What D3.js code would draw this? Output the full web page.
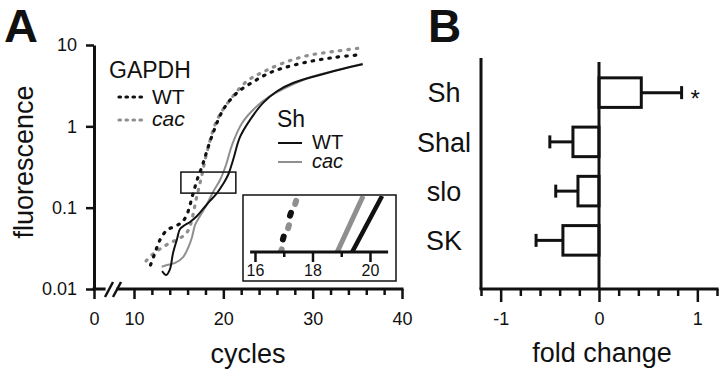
<!DOCTYPE html>
<html><head><meta charset="utf-8">
<script src="https://cdn.jsdelivr.net/npm/d3@7"></script>
<style>body{margin:0;background:#fff}svg{display:block}text{font-family:"Liberation Sans",Arial,Helvetica,sans-serif;fill:#111}</style>
</head><body><svg id="c" width="720" height="372"></svg>
<script>
// ---------- Panel A data ----------
const cycleTicks = [0, 10, 20, 30, 40];
const cycleMinor = [12, 14, 16, 18, 22, 24, 26, 28, 32, 34, 36, 38];
const fluorTicks = [0.01, 0.1, 1, 10];
const fluorLabels = ["0.01", "0.1", "1", "10"];

const gapdhWT = [[11.85,0.0197],[12.35,0.0277],[12.9,0.040],[13.7,0.053],[14.6,0.059],[15.4,0.0667],[15.9,0.081],[16.27,0.108],[16.5,0.135],[16.83,0.18],[17.17,0.238],[17.6,0.316],[17.95,0.42],[18.85,0.83],[19.97,1.59],[21.5,2.57],[23.3,3.5],[24.9,4.4],[26.35,5.07],[29.4,6.18],[32.3,7.0],[35.4,7.6]];
const gapdhCac = [[11.35,0.0221],[12.0,0.0262],[12.9,0.031],[14.0,0.0367],[15.15,0.0424],[15.8,0.0474],[16.27,0.0594],[16.6,0.0813],[16.94,0.124],[17.28,0.179],[17.6,0.252],[18.17,0.483],[19.3,1.2],[20.75,2.11],[22.65,3.6],[24.45,4.66],[26.7,6.0],[29.4,7.4],[32.3,8.3],[35.4,9.2]];
const shWT = [[13.14,0.0166],[13.6,0.0149],[14.03,0.0176],[14.37,0.0277],[14.82,0.0412],[15.15,0.0547],[15.7,0.0612],[16.27,0.0667],[17.05,0.0789],[17.73,0.0964],[18.5,0.121],[19.29,0.151],[19.97,0.195],[20.53,0.252],[21.09,0.386],[21.87,0.74],[22.99,1.2],[24.45,1.94],[26.0,2.7],[27.8,3.41],[30.8,4.28],[34.2,5.36],[35.6,5.8]];
const shCac = [[13.1,0.0188],[13.7,0.0197],[14.6,0.0209],[15.5,0.0247],[16.05,0.0319],[16.5,0.0436],[16.83,0.0612],[17.39,0.0789],[18.06,0.105],[18.85,0.156],[19.63,0.219],[20.3,0.335],[20.97,0.589],[22.1,1.1],[23.66,1.73],[25.1,2.3],[26.9,2.96],[30.0,4.1],[33.0,5.0],[35.6,5.9]];

// zoom box (in data units) and inset data
const boxCycles = [15.25, 21.4];
const boxFluor = [0.151, 0.274];
const insetTicks = [16, 18, 20];
const insetMinor = [17, 19];
const insetGapdhWT = [[16.85,0.15],[17.0,0.178],[17.2,0.212],[17.45,0.25]];
const insetGapdhCac = [[16.9,0.15],[17.05,0.175],[17.25,0.21],[17.48,0.25]];
const insetShWT = [[19.38,0.15],[20.42,0.25]];
const insetShCac = [[18.86,0.15],[19.76,0.25]];

// ---------- Panel B data ----------
const genes = ["Sh", "Shal", "slo", "SK"];
const foldChange = [0.43, -0.265, -0.214, -0.367];
const foldErr = [0.41, 0.235, 0.226, 0.273];
const signif = ["*", "", "", ""];
const foldTicks = [-1, 0, 1];
const foldMinor = [-1.2, -0.8, -0.6, -0.4, -0.2, 0.2, 0.4, 0.6, 0.8, 1.2];

const BLACK = "#111", GRAY = "#8f8f8f";
const svg = d3.select("#c");

// ================= Panel A =================
const x = d3.scaleLinear().domain([0, 10, 40]).range([94, 134, 402]);
const y = d3.scaleLog().domain([0.01, 10]).range([289, 45]);
const A = svg.append("g");

// y axis
const yAx = A.append("g").attr("transform", `translate(${x(0)},0)`)
  .call(d3.axisLeft(y).tickValues(fluorTicks).tickFormat((d,i)=>fluorLabels[i]).tickSize(8).tickPadding(9).tickSizeOuter(0));
yAx.select(".domain").attr("stroke", BLACK).attr("stroke-width", 3);
yAx.selectAll(".tick line").attr("stroke", BLACK).attr("stroke-width", 2.5);
yAx.selectAll(".tick text").attr("font-size", 18).attr("fill", BLACK);

// x axis (broken)
const xAxG = A.append("g").attr("transform", `translate(0,${y(0.01)})`);
const xMaj = xAxG.append("g").call(d3.axisBottom(x).tickValues(cycleTicks).tickSize(10).tickPadding(13));
const xMin = xAxG.append("g").call(d3.axisBottom(x).tickValues(cycleMinor).tickSize(6).tickFormat(""));
xAxG.selectAll(".domain").remove();
xAxG.selectAll(".tick line").attr("stroke", BLACK).attr("stroke-width", 2.5);
xMaj.selectAll(".tick text").attr("font-size", 18).attr("fill", BLACK);
xAxG.append("line").attr("x1", x(0) - 1.5).attr("x2", x(2.9)).attr("y1", 0).attr("y2", 0).attr("stroke", BLACK).attr("stroke-width", 3);
xAxG.append("line").attr("x1", x(5.6)).attr("x2", x(40) + 1.5).attr("y1", 0).attr("y2", 0).attr("stroke", BLACK).attr("stroke-width", 3);
[3.75, 5.75].forEach(c => {
  xAxG.append("line").attr("x1", x(c) - 4).attr("x2", x(c) + 4).attr("y1", 8).attr("y2", -7)
    .attr("stroke", BLACK).attr("stroke-width", 2.5);
});

// curves
const line = d3.line().x(d => x(d[0])).y(d => y(d[1])).curve(d3.curveCatmullRom.alpha(0.5));
const curves = [
  {d: gapdhCac, c: GRAY, dash: true},
  {d: gapdhWT, c: BLACK, dash: true},
  {d: shCac, c: GRAY, dash: false},
  {d: shWT, c: BLACK, dash: false}
];
curves.forEach(s => {
  const p = A.append("path").attr("d", line(s.d)).attr("fill", "none").attr("stroke", s.c);
  if (s.dash) p.attr("stroke-width", 3.2).attr("stroke-dasharray", "1.5,7").attr("stroke-linecap", "round");
  else p.attr("stroke-width", 2);
});

// zoom box
A.append("rect").attr("x", x(boxCycles[0])).attr("y", y(boxFluor[1]))
  .attr("width", x(boxCycles[1]) - x(boxCycles[0])).attr("height", y(boxFluor[0]) - y(boxFluor[1]))
  .attr("fill", "none").attr("stroke", BLACK).attr("stroke-width", 1.5);

// axis titles
A.append("text").attr("transform", "translate(33,162) rotate(-90)").attr("text-anchor", "middle").attr("font-size", 27).text("fluorescence");
A.append("text").attr("x", 248).attr("y", 363).attr("text-anchor", "middle").attr("font-size", 27).text("cycles");
A.append("text").attr("x", 4).attr("y", 42).attr("font-size", 47).attr("font-weight", "bold").text("A");

// legends
A.append("text").attr("x", 109).attr("y", 78).attr("font-size", 23).text("GAPDH");
const leg1 = [{c: BLACK, t: "WT", it: false, ly: 97, ty: 104}, {c: GRAY, t: "cac", it: true, ly: 120, ty: 126}];
leg1.forEach(l => {
  A.append("line").attr("x1", 119).attr("x2", 144).attr("y1", l.ly).attr("y2", l.ly)
    .attr("stroke", l.c).attr("stroke-width", 3.2).attr("stroke-dasharray", "1.5,5.5").attr("stroke-linecap", "round");
  A.append("text").attr("x", 152).attr("y", l.ty).attr("font-size", 21).attr("font-style", l.it ? "italic" : "normal").text(l.t);
});
A.append("text").attr("x", 277).attr("y", 127).attr("font-size", 23).text("Sh");
const leg2 = [{c: BLACK, t: "WT", it: false, ly: 143, ty: 149}, {c: GRAY, t: "cac", it: true, ly: 162, ty: 168}];
leg2.forEach(l => {
  A.append("line").attr("x1", 278).attr("x2", 302).attr("y1", l.ly).attr("y2", l.ly).attr("stroke", l.c).attr("stroke-width", 2);
  A.append("text").attr("x", 312).attr("y", l.ty).attr("font-size", 20).attr("font-style", l.it ? "italic" : "normal").text(l.t);
});

// inset
const ix = d3.scaleLinear().domain([16, 20]).range([255, 370]);
const iy = d3.scaleLinear().domain([0.15, 0.25]).range([252, 196]);
const I = svg.append("g");
I.append("rect").attr("x", 243).attr("y", 195).attr("width", 153).attr("height", 86)
  .attr("fill", "#fff").attr("stroke", BLACK).attr("stroke-width", 1.5);
svg.append("clipPath").attr("id", "ic").append("rect").attr("x", 244).attr("y", 196).attr("width", 151).attr("height", 56);
const iline = d3.line().x(d => ix(d[0])).y(d => iy(d[1])).curve(d3.curveCatmullRom.alpha(0.5));
const IC = I.append("g").attr("clip-path", "url(#ic)");
IC.append("path").attr("d", iline(insetShCac)).attr("stroke", GRAY).attr("stroke-width", 5).attr("fill", "none");
IC.append("path").attr("d", iline(insetShWT)).attr("stroke", BLACK).attr("stroke-width", 4.5).attr("fill", "none");
IC.append("path").attr("d", iline(insetGapdhCac)).attr("stroke", GRAY).attr("stroke-width", 6).attr("fill", "none")
  .attr("stroke-linecap", "round").attr("stroke-dasharray", "3,22").attr("stroke-dashoffset", 0);
IC.append("path").attr("d", iline(insetGapdhWT)).attr("stroke", BLACK).attr("stroke-width", 6).attr("fill", "none")
  .attr("stroke-linecap", "round").attr("stroke-dasharray", "3,22").attr("stroke-dashoffset", 12);
const iAx = I.append("g").attr("transform", `translate(0,${iy(0.15)})`);
const iMaj = iAx.append("g").call(d3.axisBottom(ix).tickValues(insetTicks).tickSize(10).tickPadding(3).tickFormat(d3.format("d")));
iAx.append("g").call(d3.axisBottom(ix).tickValues(insetMinor).tickSize(5).tickFormat(""));
iAx.selectAll(".domain").remove();
iAx.selectAll(".tick line").attr("stroke", BLACK).attr("stroke-width", 2.5);
iMaj.selectAll(".tick text").attr("font-size", 16).attr("fill", BLACK);
iAx.append("line").attr("x1", ix(15.83)).attr("x2", ix(20.63)).attr("y1", 0).attr("y2", 0).attr("stroke", BLACK).attr("stroke-width", 3);

// ================= Panel B =================
const fx = d3.scaleLinear().domain([-1.2, 1.2]).range([481, 717]);
const fy = d3.scaleBand().domain(genes).range([68, 265]).paddingInner(0.4).paddingOuter(0.2);
const B = svg.append("g");
const bAx = B.append("g").attr("transform", "translate(0,289)");
const bMaj = bAx.append("g").call(d3.axisBottom(fx).tickValues(foldTicks).tickSize(13).tickPadding(10).tickFormat(d3.format("d")));
bAx.append("g").call(d3.axisBottom(fx).tickValues(foldMinor).tickSize(7).tickFormat(""));
bAx.selectAll(".domain").remove();
bAx.selectAll(".tick line").attr("stroke", BLACK).attr("stroke-width", 2.5);
bMaj.selectAll(".tick text").attr("font-size", 18).attr("fill", BLACK).text(d => d < 0 ? "-" + Math.abs(d) : d);
bAx.append("line").attr("x1", fx(-1.2) - 1.5).attr("x2", fx(1.2) + 1.5).attr("y1", 0).attr("y2", 0).attr("stroke", BLACK).attr("stroke-width", 3);
B.append("line").attr("x1", fx(-1.2)).attr("x2", fx(-1.2)).attr("y1", 58).attr("y2", 289).attr("stroke", BLACK).attr("stroke-width", 3);

genes.forEach((g, i) => {
  const v = foldChange[i], e = foldErr[i], s = Math.sign(v);
  const cy = fy(g) + fy.bandwidth() / 2;
  const end = fx(v + s * e);
  B.append("line").attr("x1", fx(v)).attr("x2", end).attr("y1", cy).attr("y2", cy).attr("stroke", BLACK).attr("stroke-width", 3);
  B.append("line").attr("x1", end).attr("x2", end).attr("y1", cy - 6.5).attr("y2", cy + 6.5).attr("stroke", BLACK).attr("stroke-width", 3);
  B.append("rect").attr("x", Math.min(fx(0), fx(v))).attr("y", fy(g)).attr("width", Math.abs(fx(v) - fx(0))).attr("height", fy.bandwidth())
    .attr("fill", "#fff").attr("stroke", BLACK).attr("stroke-width", 3);
  B.append("text").attr("x", 444).attr("y", cy).attr("dy", "0.36em").attr("text-anchor", "middle").attr("font-size", 27).text(g);
  if (signif[i]) B.append("text").attr("x", end + 9).attr("y", cy + 14).attr("font-size", 24).text(signif[i]);
});
B.append("line").attr("x1", fx(0)).attr("x2", fx(0)).attr("y1", 62).attr("y2", 289).attr("stroke", BLACK).attr("stroke-width", 3);
B.append("text").attr("x", 602).attr("y", 362).attr("text-anchor", "middle").attr("font-size", 27).text("fold change");
B.append("text").attr("x", 428).attr("y", 42).attr("font-size", 46).attr("font-weight", "bold").text("B");
</script></body></html>
